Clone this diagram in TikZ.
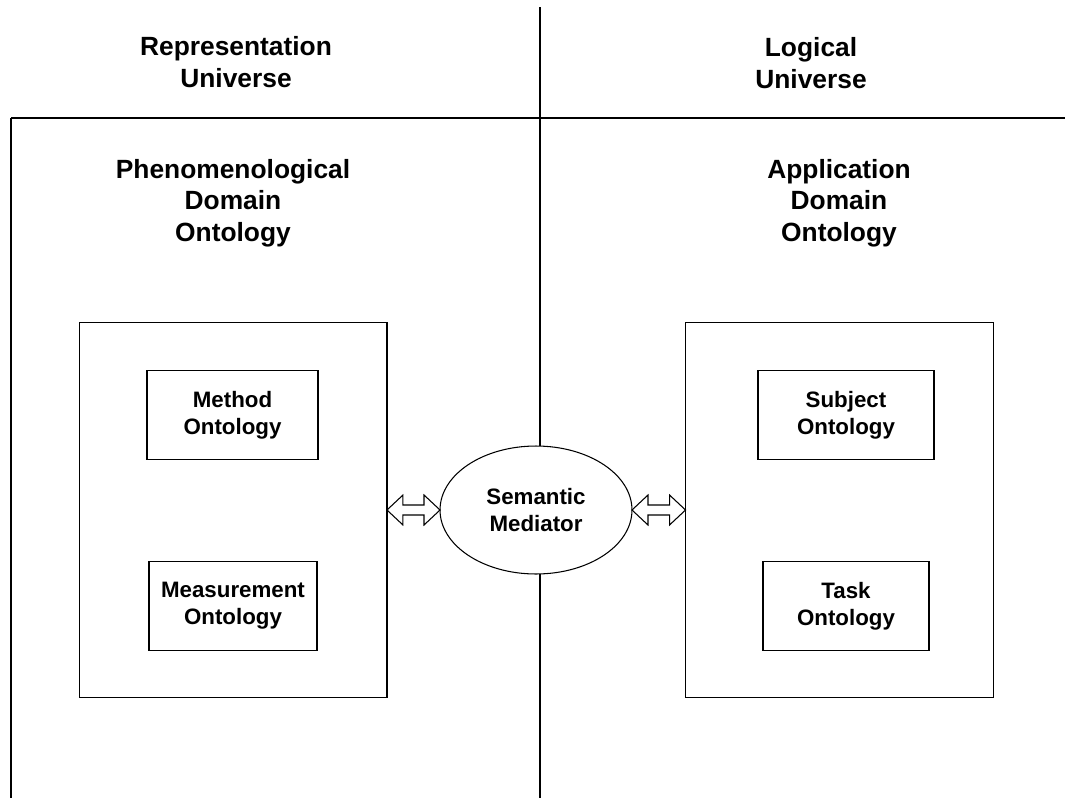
\documentclass[tikz,border=0pt]{standalone}
\usepackage{fontspec}
\setmainfont{Liberation Sans}
\usepackage{tikz}
\usetikzlibrary{positioning, shapes, calc}

\begin{document}
\begin{tikzpicture}[x=0.02cm, y=-0.02cm, line width=0.6pt, every node/.style={font=\bfseries}]
		\useasboundingbox (0,0) rectangle (1065,798);
		
		\tikzstyle{headtxt}=[align=center, font=\bfseries\fontsize{15}{18}\selectfont, text=black]
		\tikzstyle{domainbox}=[draw=black, minimum width=6.16cm, minimum height=7.52cm, inner sep=0pt, outer sep=0pt]
		\tikzstyle{ontbox}=[draw=black, minimum height=1.77cm, align=center, inner sep=0pt, outer sep=0pt, font=\bfseries\fontsize{12.7}{15.3}\selectfont]
		\tikzstyle{mediator}=[draw=black, ellipse, fill=white, minimum width=3.84cm, minimum height=2.56cm, align=center, inner sep=0pt, outer sep=0pt, font=\bfseries\fontsize{12.7}{15.3}\selectfont]
		
		%% universe borders
		\draw (540,7) -- (540,798);
		\draw (11,118) -- (1065,118);
		\draw (11,118) -- (11,798);
		
		\node [headtxt] (RepUni) at (236,62) {Representation\\Universe};
		\node [headtxt] (LogUni) at (811,63) {Logical\\Universe};
		
		\node [headtxt] (PhenTitle) at (233,203) {Phenomenological\\Domain\\Ontology};
		\node [headtxt] (AppTitle) at (839,203) {Application\\Domain\\Ontology};
		
		%% left domain
		\node [domainbox] (PhenBox) at (233,510) {};
		\node [ontbox, minimum width=3.42cm] (MethodOnt) at (232.5,415) {Method\\Ontology};
		\node [ontbox, minimum width=3.36cm] (MeasOnt) at (233,606) {Measurement\\Ontology};
		
		%% right domain
		\node [domainbox] (AppBox) at (839.5,510) {};
		\node [ontbox, minimum width=3.52cm] (SubjOnt) at (846,415) {Subject\\Ontology};
		\node [ontbox, minimum width=3.32cm] (TaskOnt) at (846,606) {Task\\Ontology};
		
		\node [mediator] (SemMed) at (536,510) {Semantic\\Mediator};
		
		%% hollow double arrows
		\foreach \s/\e in {PhenBox.east/SemMed.west, SemMed.east/AppBox.west}
		\draw let \p1=(\s), \p2=(\e) in
			(\x1,\y1) -- (\x1+0.32cm,\y1+0.3cm) -- (\x1+0.32cm,\y1+0.1cm) -- (\x2-0.32cm,\y1+0.1cm)
			-- (\x2-0.32cm,\y1+0.3cm) -- (\x2,\y1) -- (\x2-0.32cm,\y1-0.3cm) -- (\x2-0.32cm,\y1-0.1cm)
			-- (\x1+0.32cm,\y1-0.1cm) -- (\x1+0.32cm,\y1-0.3cm) -- cycle;
		
\end{tikzpicture}
\end{document}
